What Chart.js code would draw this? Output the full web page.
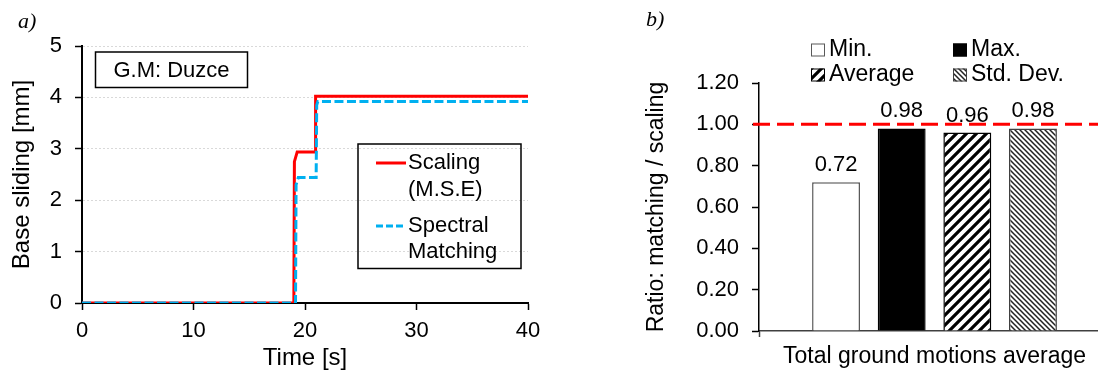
<!DOCTYPE html>
<html>
<head>
<meta charset="utf-8">
<script src="https://cdn.jsdelivr.net/npm/chart.js@4/dist/chart.umd.min.js"></script>
<style>
  html, body { margin: 0; padding: 0; background: #fff; overflow: hidden; }
  #wrap { position: relative; width: 1098px; height: 376px; overflow: hidden; }
  #slideChart { position: absolute; left: 0; top: 0; }
  #ratioChart { position: absolute; left: 550px; top: 0; }
</style>
</head>
<body>
<div id="wrap">
  <canvas id="slideChart" width="550" height="376"></canvas>
  <canvas id="ratioChart" width="570" height="376"></canvas>
</div>
<script>
// a) base sliding time history, G.M: Duzce
const groundMotion = "G.M: Duzce";
const scalingTime = [0, 19.0, 19.05, 19.3, 20.9, 20.95, 40];
const scalingSlide = [0, 0, 2.75, 2.94, 2.94, 4.02, 4.02];
const matchingTime = [0, 19.15, 19.2, 19.4, 21.0, 21.05, 21.15, 40];
const matchingSlide = [0, 0, 2.3, 2.44, 2.44, 3.85, 3.92, 3.92];
const slideLegend = [["Scaling", "(M.S.E)"], ["Spectral", "Matching"]];

// b) ratio matching / scaling
const ratioCategories = ["Total ground motions average"];
const ratioLabels = ["Min.", "Max.", "Average", "Std. Dev."];
const ratioValues = [0.72, 0.98, 0.96, 0.98];
const ratioReference = 1.0;

const FONT = "'Liberation Sans', Arial, sans-serif";
const SERIF = "'Liberation Serif', 'Times New Roman', serif";

function stripes(ctx, size, width, color, dir) {
  let tile = document.createElement("canvas");
  tile.width = size;
  tile.height = size;
  let g = tile.getContext("2d");
  g.fillStyle = "#fff";
  g.fillRect(0, 0, size, size);
  g.strokeStyle = color;
  g.lineWidth = width;
  g.beginPath();
  for (let k = -1; k <= 1; k++) {
    if (dir === "/") {
      let c = (k + 1) * size;
      g.moveTo(c - size - 2, size + 2);
      g.lineTo(c + 2, -2);
    } else {
      let c = k * size;
      g.moveTo(c - 2, -2);
      g.lineTo(c + size + 2, size + 2);
    }
  }
  g.stroke();
  return ctx.createPattern(tile, "repeat");
}

// notes on the left chart: panel letter, ground motion box, legend box
const slideNotes = {
  id: "slideNotes",
  afterDraw(chart) {
    let ctx = chart.ctx;
    ctx.save();
    ctx.fillStyle = "#000";
    ctx.textBaseline = "middle";
    ctx.font = "italic 22px " + SERIF;
    ctx.fillText("a)", 18, 22);

    ctx.strokeStyle = "#000";
    ctx.lineWidth = 1.5;
    ctx.strokeRect(95.5, 52, 152, 35.5);
    ctx.font = "22px " + FONT;
    ctx.textAlign = "center";
    ctx.fillText(groundMotion, 171.5, 70.5);

    ctx.strokeRect(358, 144, 163, 124.5);
    ctx.textAlign = "left";
    let rows = [[163, 190], [226, 252]];
    chart.data.datasets.forEach((ds, i) => {
      ctx.strokeStyle = ds.borderColor;
      ctx.lineWidth = 3;
      ctx.setLineDash(ds.borderDash ? [7, 3] : []);
      ctx.beginPath();
      ctx.moveTo(376, rows[i][0]);
      ctx.lineTo(406, rows[i][0]);
      ctx.stroke();
      ctx.setLineDash([]);
      slideLegend[i].forEach((t, k) => ctx.fillText(t, 408, rows[i][k]));
    });
    ctx.restore();
  }
};

new Chart(document.getElementById("slideChart"), {
  type: "line",
  data: {
    datasets: [
      {
        label: slideLegend[0].join(" "),
        data: scalingTime.map((t, i) => ({ x: t, y: scalingSlide[i] })),
        borderColor: "#ff0000",
        borderWidth: 3,
        pointRadius: 0,
        order: 2
      },
      {
        label: slideLegend[1].join(" "),
        data: matchingTime.map((t, i) => ({ x: t, y: matchingSlide[i] })),
        borderColor: "#00b0f0",
        borderWidth: 3,
        borderDash: [9, 3.5],
        pointRadius: 0,
        order: 1
      }
    ]
  },
  options: {
    responsive: false,
    animation: false,
    layout: { padding: { top: 46, right: 22, bottom: 0, left: 0 } },
    plugins: { legend: { display: false }, tooltip: { enabled: false } },
    scales: {
      x: {
        type: "linear",
        min: 0,
        max: 40,
        ticks: { stepSize: 10, color: "#000", font: { family: FONT, size: 22 }, padding: 8, maxRotation: 0 },
        grid: { drawOnChartArea: false, tickLength: 7, tickColor: "#000", tickWidth: 1.5 },
        border: { color: "#000", width: 2 },
        title: { display: true, text: "Time [s]", color: "#000", font: { family: FONT, size: 24 }, padding: { top: 0, bottom: 3 } },
        afterFit(scale) { scale.height = 73; }
      },
      y: {
        min: 0,
        max: 5,
        ticks: { stepSize: 1, color: "#000", font: { family: FONT, size: 22 }, padding: 13 },
        grid: { color: "#d9d9d9", tickColor: "#000", tickLength: 7, tickWidth: 1.5 },
        border: { color: "#000", width: 2, dash: [2, 2] },
        title: { display: true, text: "Base sliding [mm]", color: "#000", font: { family: FONT, size: 24 }, padding: { top: 8, bottom: 0 } },
        afterFit(scale) { scale.width = 82; }
      }
    }
  },
  plugins: [slideNotes]
});

// right chart
let ratioCanvas = document.getElementById("ratioChart");
let rctx = ratioCanvas.getContext("2d");
let fills = ["#ffffff", "#000000", stripes(rctx, 10, 3.2, "#000", "/"), stripes(rctx, 5, 1.5, "#222", "\\")];
let edges = ["#595959", "#000000", "#000000", "#404040"];

const ratioNotes = {
  id: "ratioNotes",
  afterDraw(chart) {
    let ctx = chart.ctx;
    let y = chart.scales.y;
    ctx.save();

    // value labels above bars
    ctx.fillStyle = "#000";
    ctx.font = "22px " + FONT;
    ctx.textAlign = "center";
    ctx.textBaseline = "alphabetic";
    chart.data.datasets.forEach((ds, i) => {
      let bar = chart.getDatasetMeta(i).data[0];
      ctx.fillText(ds.data[0].toFixed(2), bar.x, bar.y - 11);
    });

    // 1.00 reference line
    let yr = y.getPixelForValue(ratioReference);
    ctx.strokeStyle = "#ff0000";
    ctx.lineWidth = 3;
    ctx.setLineDash([17, 7]);
    ctx.beginPath();
    ctx.moveTo(y.right - 6, yr);
    ctx.lineTo(chart.width, yr);
    ctx.stroke();
    ctx.setLineDash([]);

    // legend, two columns
    let cols = [261, 403];
    let rows = [50, 75];
    ctx.textAlign = "left";
    ctx.textBaseline = "middle";
    ctx.font = "23px " + FONT;
    chart.data.datasets.forEach((ds, i) => {
      let x = cols[i % 2];
      let yy = rows[Math.floor(i / 2)];
      ctx.fillStyle = ds.backgroundColor;
      ctx.fillRect(x, yy - 6.5, 14, 13);
      ctx.strokeStyle = ds.borderColor;
      ctx.lineWidth = 1;
      ctx.strokeRect(x + 0.5, yy - 6, 13, 12);
      ctx.fillStyle = "#000";
      ctx.fillText(ds.label, x + 18, yy);
    });

    ctx.font = "italic 22px " + SERIF;
    ctx.fillText("b)", 96, 20);
    ctx.restore();
  }
};

new Chart(ratioCanvas, {
  type: "bar",
  data: {
    labels: ratioCategories,
    datasets: ratioLabels.map((lab, i) => ({
      label: lab,
      data: [ratioValues[i]],
      backgroundColor: fills[i],
      borderColor: edges[i],
      borderWidth: 1.5
    }))
  },
  options: {
    responsive: false,
    animation: false,
    layout: { padding: { top: 83, right: 10, bottom: 0, left: 0 } },
    datasets: { bar: { categoryPercentage: 0.748, barPercentage: 0.73 } },
    plugins: { legend: { display: false }, tooltip: { enabled: false } },
    scales: {
      x: {
        ticks: { color: "#000", font: { family: FONT, size: 23 }, padding: 6, maxRotation: 0 },
        grid: { drawOnChartArea: false, tickLength: 6, tickColor: "#404040", tickWidth: 1.5 },
        border: { color: "#404040", width: 1.5 },
        afterFit(scale) { scale.height = 45; }
      },
      y: {
        min: 0,
        max: 1.2,
        ticks: { stepSize: 0.2, color: "#000", font: { family: FONT, size: 22 }, padding: 13, callback: v => v.toFixed(2) },
        grid: { drawOnChartArea: false, tickLength: 7, tickColor: "#000", tickWidth: 1.5 },
        border: { color: "#000", width: 1.5 },
        title: { display: true, text: "Ratio: matching / scaling", color: "#000", font: { family: FONT, size: 23 }, padding: { top: 93, bottom: 0 } },
        afterFit(scale) { scale.width = 209; }
      }
    }
  },
  plugins: [ratioNotes]
});
</script>
</body>
</html>
